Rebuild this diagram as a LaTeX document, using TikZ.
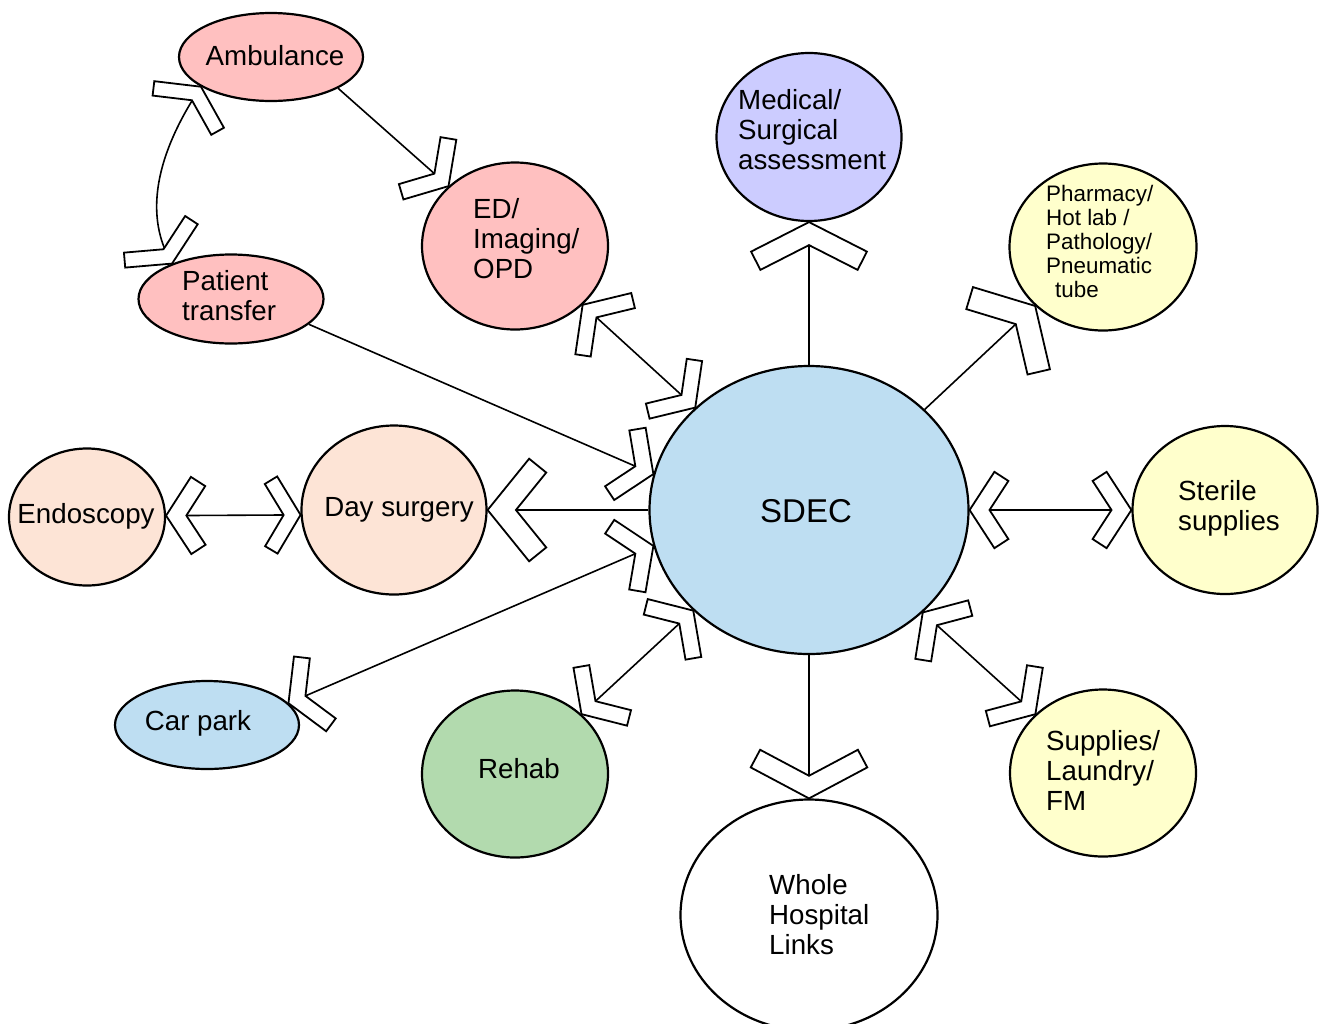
\documentclass[tikz,border=0pt]{standalone}
\usepackage{fontspec}
\setmainfont{Liberation Sans}
\usetikzlibrary{shapes.geometric,decorations.markings}

\definecolor{pinkc}{RGB}{255,192,192}
\definecolor{lavc}{RGB}{204,204,255}
\definecolor{yelc}{RGB}{255,255,204}
\definecolor{bluec}{RGB}{190,222,242}
\definecolor{peachc}{RGB}{253,228,214}
\definecolor{greenc}{RGB}{178,218,174}

% chevron: #1 arm length, #2 half-angle, #3 thickness, #4 rotation; tip at origin, pointing +x
\newcommand\chevdraw[4]{%
  \pgfmathsetmacro\chvAx{-(#1)*cos(#2)}%
  \pgfmathsetmacro\chvAy{(#1)*sin(#2)}%
  \pgfmathsetmacro\chvBx{-(#1)*cos(#2)-(#3)*sin(#2)}%
  \pgfmathsetmacro\chvBy{(#1)*sin(#2)-(#3)*cos(#2)}%
  \pgfmathsetmacro\chvS{-(#3)/sin(#2)}%
  \filldraw[chevline,rotate=#4] (0pt,0pt) -- (\chvAx pt,\chvAy pt) -- (\chvBx pt,\chvBy pt)
    -- (\chvS pt,0pt) -- (\chvBx pt,-\chvBy pt) -- (\chvAx pt,-\chvAy pt) -- cycle;}

\tikzset{
  conn/.style={draw=black, line width=1.6pt},
  chevline/.style={draw=black, fill=white, line width=1.8pt, line join=miter},
  endchev/.style n args={3}{postaction={decorate,decoration={markings,
      mark=at position 1 with {\chevdraw{#1}{#2}{#3}{0}}}}},
  startchev/.style n args={3}{postaction={decorate,decoration={markings,
      mark=at position 0 with {\chevdraw{#1}{#2}{#3}{180}}}}},
  ell/.style={ellipse, draw=black, line width=2.2pt, inner sep=0pt},
  txt/.style={inner sep=0pt, font=\fontsize{27.7}{30}\selectfont, align=left},
  smalltxt/.style={inner sep=0pt, font=\fontsize{22.4}{24}\selectfont, align=left},
  bigtxt/.style={inner sep=0pt, font=\fontsize{33}{36}\selectfont},
}

\begin{document}
\begin{tikzpicture}[x=1pt,y=-1pt]
\useasboundingbox (0,0) rectangle (1321,1023);
\clip (0,0) rectangle (1321,1023);

% nodes
\node[ell, fill=pinkc, minimum width=184pt, minimum height=88pt] (amb) at (271,57) {};
\node[ell, fill=pinkc, minimum width=186pt, minimum height=167pt] (ed) at (515,246) {};
\node[ell, fill=pinkc, minimum width=185pt, minimum height=89pt] (pt) at (231,299) {};
\node[ell, fill=lavc, minimum width=185pt, minimum height=168pt] (med) at (809,137) {};
\node[ell, fill=yelc, minimum width=187pt, minimum height=167pt] (ph) at (1103,247) {};
\node[ell, fill=bluec, minimum width=319pt, minimum height=288pt] (sdec) at (809,510) {};
\node[ell, fill=yelc, minimum width=185pt, minimum height=168pt] (st) at (1225,510) {};
\node[ell, fill=peachc, minimum width=185pt, minimum height=169pt] (day) at (394,510) {};
\node[ell, fill=peachc, minimum width=156pt, minimum height=137pt] (endo) at (87,517) {};
\node[ell, fill=bluec, minimum width=184pt, minimum height=88pt] (car) at (207,725) {};
\node[ell, fill=greenc, minimum width=186pt, minimum height=167pt] (reh) at (515,774) {};
\node[ell, fill=white, minimum width=257pt, minimum height=231pt] (wh) at (809,915) {};
\node[ell, fill=yelc, minimum width=186pt, minimum height=167pt] (sup) at (1103,773) {};

% texts
\node[txt] (ambT) at (275,56) {Ambulance};
\node[txt, anchor=west] (edT) at (473,239) {ED/\\Imaging/\\OPD};
\node[txt, anchor=west] (ptT) at (182,296) {Patient\\transfer};
\node[txt, anchor=west] (medT) at (738,130) {Medical/\\Surgical\\assessment};
\node[smalltxt, anchor=west] (phT) at (1046,241) {Pharmacy/\\Hot lab /\\Pathology/\\Pneumatic\\\hspace*{9pt}tube};
\node[bigtxt] (sdecT) at (806,511) {SDEC};
\node[txt, anchor=west] (stT) at (1178,508) {Sterile\\supplies};
\node[txt] (dayT) at (399,510) {Day surgery};
\node[txt] (endoT) at (86,516) {Endoscopy};
\node[txt] (carT) at (198,723) {Car park};
\node[txt] (rehT) at (519,769) {Rehab};
\node[txt, anchor=west] (whT) at (769,915) {Whole\\Hospital\\Links};
\node[txt, anchor=west] (supT) at (1046,770) {Supplies/\\Laundry/\\FM};

% connectors
\draw[conn, endchev={47}{58}{16}] (amb.-25) -- (ed.138.6);
\draw[conn, startchev={47}{63}{14.5}, endchev={47}{64}{15}] (amb.203) .. controls (162,145) and (140,210) .. (pt.149.5);
\draw[conn, endchev={47}{57}{16.5}] (pt.-18) -- (sdec.167);
\draw[conn, startchev={50}{56}{15.5}, endchev={47}{56}{15.5}] (ed.-41) -- (sdec.138.2);
\draw[conn, endchev={65}{63}{20.5}] (sdec.north) -- (med.south);
\draw[conn, endchev={65}{60}{23}] (sdec.41.6) -- (ph.221.7);
\draw[conn, startchev={45.5}{57}{16.7}, endchev={45.5}{57}{16.7}] (sdec.east) -- (st.west);
\draw[conn, endchev={66}{51}{22}] (sdec.west) -- (day.east);
\draw[conn, startchev={46}{57}{17}, endchev={45}{59}{14.5}] (endo.1.5) -- (day.183);
\draw[conn, startchev={47}{60}{16}, endchev={47}{57}{16.5}] (car.15) -- (sdec.193.4);
\draw[conn, startchev={47}{57}{16}, endchev={47}{57}{16}] (reh.42.3) -- (sdec.221.8);
\draw[conn, endchev={66}{62}{20}] (sdec.south) -- (wh.north);
\draw[conn, startchev={47}{57}{16}, endchev={47}{57}{16}] (sdec.-42) -- (sup.139.2);
\end{tikzpicture}
\end{document}
